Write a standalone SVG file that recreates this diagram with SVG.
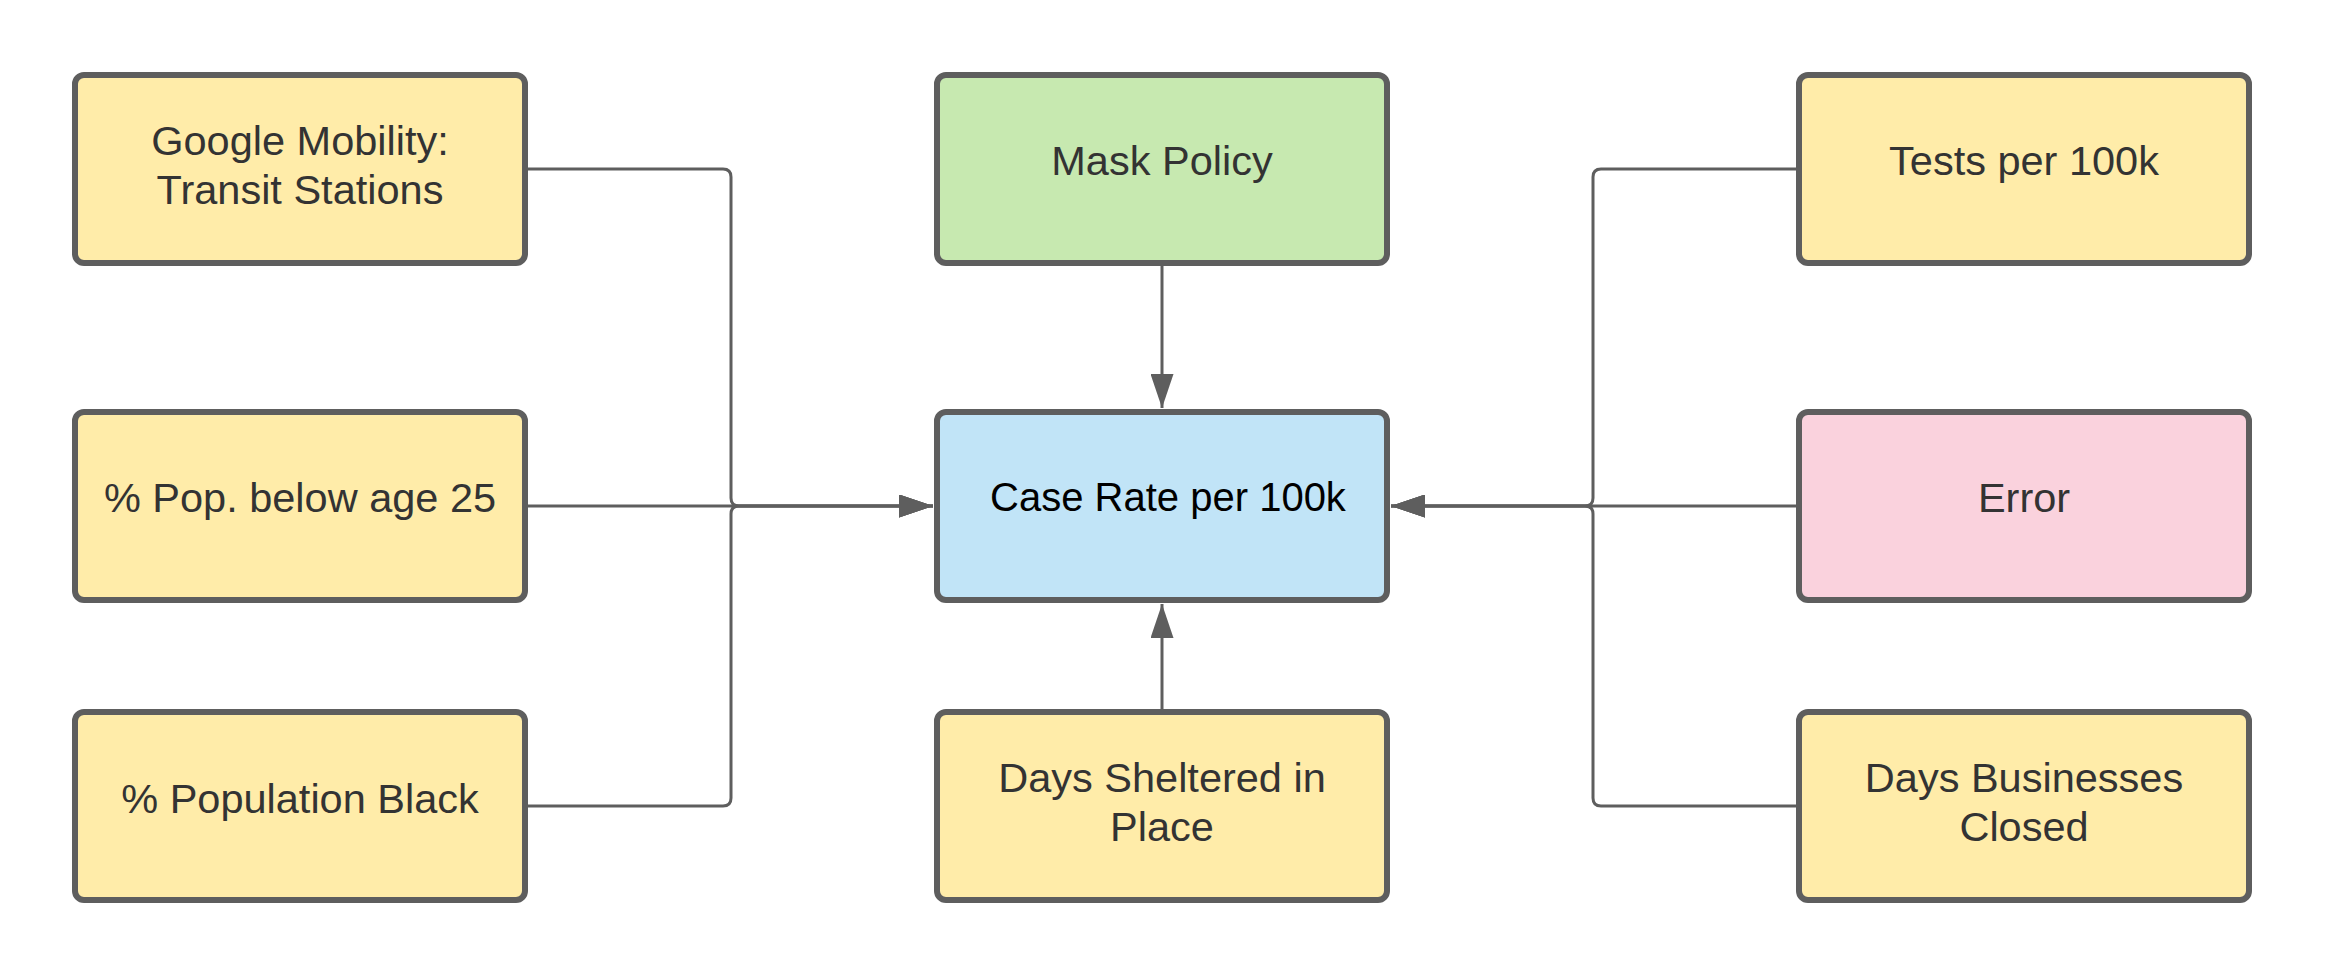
<svg xmlns="http://www.w3.org/2000/svg" width="2325" height="975" viewBox="0 0 2325 975">
  <defs>
    <style>
      .box { stroke: #5e5e5e; stroke-width: 6; }
      .yellow { fill: #ffeca9; }
      .green { fill: #c7e9b0; }
      .blue { fill: #c1e4f7; }
      .pink { fill: #fad2dd; }
      .lbl { font-family: "Liberation Sans", Arial, sans-serif; font-size: 41.5px; fill: #333333; text-anchor: middle; }
      .dark { fill: #000000; font-size: 40px; }
      .conn { fill: none; stroke: #5e5e5e; stroke-width: 3; }
    </style>
    <marker id="arrow" markerUnits="userSpaceOnUse" viewBox="0 0 34 23" refX="34" refY="11.5" markerWidth="34" markerHeight="23" orient="auto">
      <path d="M0,0 L34,11.5 L0,23 Z" fill="#5e5e5e"/>
    </marker>
  </defs>
  <rect width="2325" height="975" fill="#ffffff"/>

  <g id="connectors">
    <path class="conn" d="M525,169 H723 Q731,169 731,177 V498 Q731,506 739,506 H933" marker-end="url(#arrow)"/>
    <path class="conn" d="M525,506 H933" marker-end="url(#arrow)"/>
    <path class="conn" d="M525,806 H723 Q731,806 731,798 V514 Q731,506 739,506 H933" marker-end="url(#arrow)"/>
    <path class="conn" d="M1799,169 H1601 Q1593,169 1593,177 V498 Q1593,506 1585,506 H1391" marker-end="url(#arrow)"/>
    <path class="conn" d="M1799,506 H1391" marker-end="url(#arrow)"/>
    <path class="conn" d="M1799,806 H1601 Q1593,806 1593,798 V514 Q1593,506 1585,506 H1391" marker-end="url(#arrow)"/>
    <path class="conn" d="M1162,263 V408" marker-end="url(#arrow)"/>
    <path class="conn" d="M1162,712 V604" marker-end="url(#arrow)"/>
  </g>

  <g id="google-mobility">
    <rect class="box yellow" x="75" y="75" width="450" height="188" rx="9"/>
    <text class="lbl" x="300" y="155">Google Mobility:</text>
    <text class="lbl" x="300" y="204">Transit Stations</text>
  </g>
  <g id="pop-below-25">
    <rect class="box yellow" x="75" y="412" width="450" height="188" rx="9"/>
    <text class="lbl" x="300" y="512">% Pop. below age 25</text>
  </g>
  <g id="pop-black">
    <rect class="box yellow" x="75" y="712" width="450" height="188" rx="9"/>
    <text class="lbl" x="300" y="813">% Population Black</text>
  </g>
  <g id="mask-policy">
    <rect class="box green" x="937" y="75" width="450" height="188" rx="9"/>
    <text class="lbl" x="1162" y="175">Mask Policy</text>
  </g>
  <g id="case-rate">
    <rect class="box blue" x="937" y="412" width="450" height="188" rx="9"/>
    <text class="lbl dark" x="1168" y="511">Case Rate per 100k</text>
  </g>
  <g id="days-sheltered">
    <rect class="box yellow" x="937" y="712" width="450" height="188" rx="9"/>
    <text class="lbl" x="1162" y="792">Days Sheltered in</text>
    <text class="lbl" x="1162" y="841">Place</text>
  </g>
  <g id="tests">
    <rect class="box yellow" x="1799" y="75" width="450" height="188" rx="9"/>
    <text class="lbl" x="2024" y="175">Tests per 100k</text>
  </g>
  <g id="error">
    <rect class="box pink" x="1799" y="412" width="450" height="188" rx="9"/>
    <text class="lbl" x="2024" y="512">Error</text>
  </g>
  <g id="days-businesses">
    <rect class="box yellow" x="1799" y="712" width="450" height="188" rx="9"/>
    <text class="lbl" x="2024" y="792">Days Businesses</text>
    <text class="lbl" x="2024" y="841">Closed</text>
  </g>
</svg>
